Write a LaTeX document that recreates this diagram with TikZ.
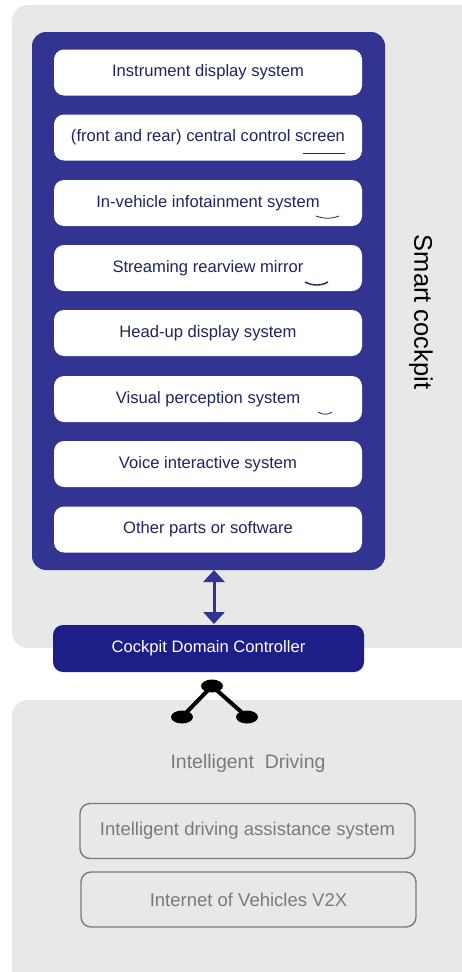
\documentclass[tikz,border=0pt]{standalone}
\usepackage{fontspec}
\setmainfont{Liberation Sans}
\usetikzlibrary{arrows.meta,shapes.geometric}
\definecolor{panelgray}{HTML}{E8E8E8}
\definecolor{outerblue}{HTML}{333391}
\definecolor{ctrlblue}{HTML}{1E1E87}
\definecolor{boxtext}{HTML}{1F2560}
\definecolor{graytext}{HTML}{7A7A7A}
\tikzset{
  panel/.style={fill=panelgray, draw=none, rounded corners=16pt},
  itembox/.style={fill=white, draw=none, rounded corners=10pt, minimum width=308pt, minimum height=46pt, inner sep=0pt, text=boxtext, font=\fontsize{16.6}{18}\selectfont},
  graybox/.style={fill=none, draw=graytext, line width=1.4pt, rounded corners=10pt, minimum width=335pt, minimum height=55pt, inner sep=0pt, text=graytext, font=\fontsize{18.5}{20}\selectfont},
  dot/.style={ellipse, fill=black, minimum width=22pt, minimum height=13pt, inner sep=0pt},
  squiggle/.style={draw=boxtext, line width=1pt},
}
\begin{document}
\begin{tikzpicture}[x=1pt,y=-1pt]
\useasboundingbox (0,0) rectangle (462,972);
% panels
\fill[panelgray, rounded corners=16pt] (12,5) rectangle (480,648);
\fill[panelgray, rounded corners=16pt] (12,700) rectangle (480,990);
% outer blue container
\node[fill=outerblue, rounded corners=14pt, minimum width=353pt, minimum height=538pt, inner sep=0pt] (cont) at (208.5,301) {};
% items
\node[itembox] (b1) at (208,72.5) {Instrument display system};
\node[itembox] (b2) at (208,137.5) {(front and rear) central control screen};
\node[itembox] (b3) at (208,203) {In-vehicle infotainment system};
\node[itembox] (b4) at (208,268) {Streaming rearview mirror};
\node[itembox] (b5) at (208,333) {Head-up display system};
\node[itembox] (b6) at (208,399) {Visual perception system};
\node[itembox] (b7) at (208,464) {Voice interactive system};
\node[itembox] (b8) at (208,529.5) {Other parts or software};
% small marks
\draw[squiggle] (303,153) -- (345,153);
\draw[squiggle, line width=0.8pt] (316,216) .. controls (324,219) and (332,219) .. (339,216);
\draw[squiggle, line width=1.4pt] (305,282) .. controls (313,286) and (321,286) .. (328,282);
\draw[squiggle, line width=0.8pt] (318,412) .. controls (323,415) and (328,415) .. (332,412);
% smart cockpit label
\node[rotate=-90, font=\fontsize{25.5}{28}\selectfont] (sc) at (421,312) {Smart cockpit};
% controller
\node[fill=ctrlblue, rounded corners=10pt, minimum width=311pt, minimum height=47pt, inner sep=0pt, text=white, font=\fontsize{16.6}{18}\selectfont] (cdc) at (208.5,648.5) {Cockpit Domain Controller};
% double arrow
\draw[outerblue, line width=3pt, {Triangle[width=21pt,length=12pt]}-{Triangle[width=21pt,length=12pt]}] (214,570) -- (214,624);
% connector symbol
\node[dot] (dtop) at (212,686) {};
\node[dot] (dleft) at (182,717) {};
\node[dot] (dright) at (247,717) {};
\draw[black, line width=4pt] (dtop.center) -- (dleft.center);
\draw[black, line width=4pt] (dtop.center) -- (dright.center);
% intelligent driving
\node[text=graytext, font=\fontsize{19.5}{21}\selectfont] (id) at (248,763) {Intelligent\ \ Driving};
\node[graybox] (ga) at (247.5,831) {Intelligent driving assistance system};
\node[graybox] (gb) at (248.5,899.5) {Internet of Vehicles V2X};
\end{tikzpicture}
\end{document}
